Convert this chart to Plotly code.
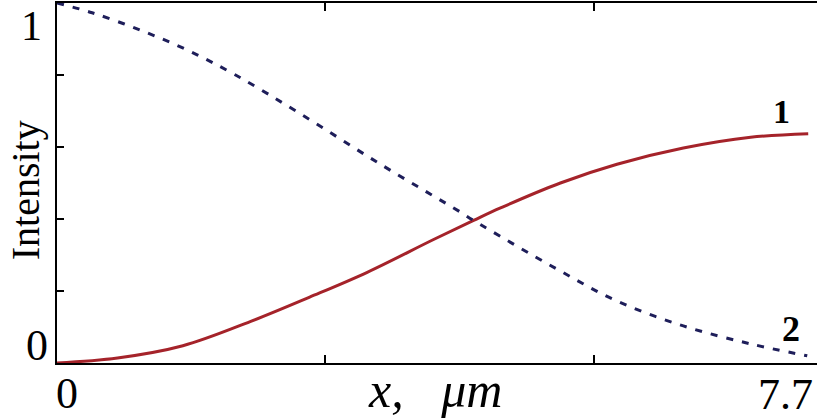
import plotly.graph_objects as go

# curve 1 (solid red)
x1 = [0.00, 0.62, 1.29, 1.98, 2.59, 3.18, 3.86, 4.27, 4.54, 5.16, 5.74, 6.42, 7.11, 7.70]
y1 = [0.000, 0.014, 0.048, 0.115, 0.183, 0.252, 0.343, 0.396, 0.430, 0.500, 0.552, 0.597, 0.627, 0.637]

# curve 2 (dashed blue)
x2 = [0.00, 0.36, 0.85, 1.33, 1.83, 2.49, 3.31, 4.13, 4.27, 5.13, 5.74, 6.42, 7.11, 7.69]
y2 = [1.000, 0.973, 0.925, 0.870, 0.800, 0.693, 0.553, 0.420, 0.396, 0.260, 0.172, 0.103, 0.053, 0.020]

x_ticks = [0, 2.75, 5.5]
y_ticks = [0, 0.2, 0.4, 0.6, 0.8, 1.0]

serif = 'Liberation Serif'

fig = go.Figure()
fig.add_trace(go.Scatter(
    x=x1, y=y1, mode='lines',
    line=dict(color='rgb(165,35,42)', width=3, shape='spline'),
    cliponaxis=False
))
fig.add_trace(go.Scatter(
    x=x2, y=y2, mode='lines',
    line=dict(color='rgb(30,30,90)', width=3, dash='7px,9px', shape='spline'),
    cliponaxis=False
))

# labels placed in paper coordinates
ann = [
    dict(x=-0.033, y=0.935, text='1', size=42),
    dict(x=-0.026, y=0.05, text='0', size=44),
    dict(x=0.013, y=-0.085, text='0', size=44),
    dict(x=0.958, y=-0.088, text='7.7', size=44),
    dict(x=0.953, y=0.70, text='<b>1</b>', size=34),
    dict(x=0.966, y=0.095, text='<b>2</b>', size=36),
    dict(x=0.497, y=-0.075, text='<i>x,&nbsp;&nbsp;&nbsp;μm</i>', size=50),
]
for a in ann:
    fig.add_annotation(
        x=a['x'], y=a['y'], xref='paper', yref='paper', text=a['text'],
        showarrow=False, xanchor='center', yanchor='middle',
        font=dict(family=serif, size=a['size'], color='black')
    )
fig.add_annotation(
    x=-0.042, y=0.48, xref='paper', yref='paper', text='Intensity', textangle=-90,
    showarrow=False, xanchor='center', yanchor='middle',
    font=dict(family=serif, size=40, color='black')
)

fig.update_layout(
    width=817, height=419,
    margin=dict(l=57, r=0, t=3, b=56),
    plot_bgcolor='white', paper_bgcolor='white',
    showlegend=False,
    xaxis=dict(
        range=[0, 7.79], tickvals=x_ticks, showticklabels=False,
        ticks='inside', ticklen=8, tickwidth=2, tickcolor='black',
        showline=True, linecolor='black', linewidth=2, mirror='ticks',
        showgrid=False, zeroline=False
    ),
    yaxis=dict(
        range=[0, 1.0], tickvals=y_ticks, showticklabels=False,
        ticks='inside', ticklen=7, tickwidth=2, tickcolor='black',
        showline=True, linecolor='black', linewidth=2,
        showgrid=False, zeroline=False
    )
)

fig.write_html("out.html", config={'displayModeBar': False},
               post_script="document.body.style.margin='0';document.body.style.overflow='hidden';")
